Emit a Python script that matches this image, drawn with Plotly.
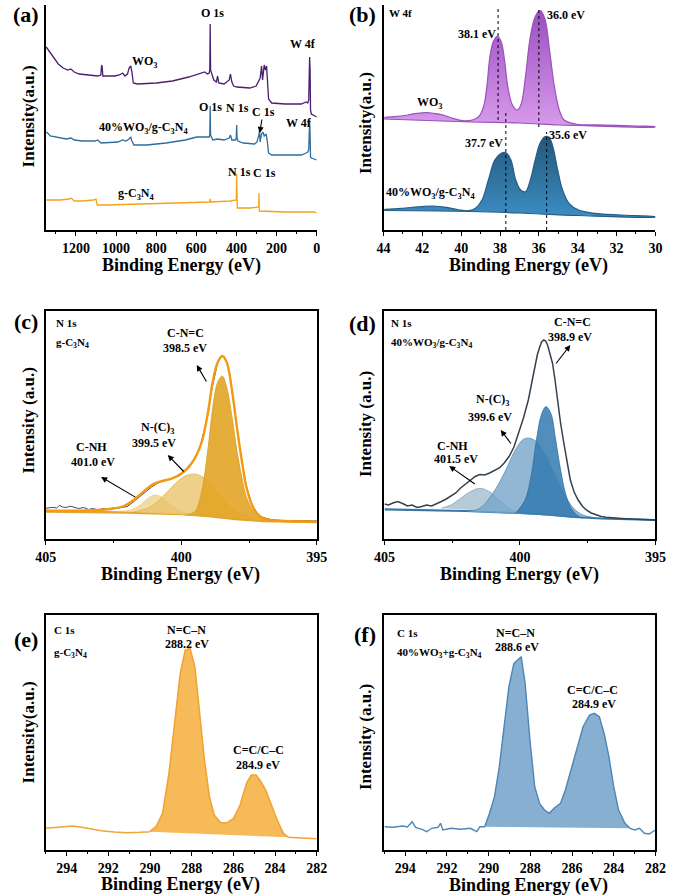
import plotly.graph_objects as go

FONT = "Liberation Serif, Times New Roman, Times, serif"

# ---------------- (a) survey spectra ----------------
a_ev_wo3 = [1348,1341,1328,1312,1288,1264,1240,1226,1208,1184,1136,1091,1076,1072,1069,1066,1007,983,967,956,
            943,935,927,921,914,895,799,719,638,566,558,545,536,533,531,529,526,520,513,500,
            494,488,462,436,430,423,414,398,334,302,290,282,275,270,262,256,250,245,240,225,
            157,77,53,45,40,37,35.5,33,31,27,12,0]
a_int_wo3 = [183,181,177,172,166,162,160,161,158,156,155,154,155,165,163,154,154,155,157,154,
             156,162,164,158,147,146,147,149,153,157,158,156,157,160,206,160,158,156,150,148,
             154,147,146,150,156,148,144,143,142,144,148,152,164,150,165,160,164,147,131,127,
             126,126,128,127,130,160,173,160,120,116,114,113]
a_ev_comp = [1348,1341,1328,1280,1248,1224,1208,1168,1104,1092,1075,991,967,951,935,927,921,911,847,751,
             655,598,558,536,533,531,529,526,518,494,462,436,430,423,404,401,399,397,393,366,
             334,310,298,292,288,285,282,275,268,262,252,246,240,225,157,77,53,45,40,37,
             35.5,33,31,27,12,0]
a_int_comp = [98,97,94,92,91,92,90,89,89,90,87,88,90,89,91,93,89,85,85,87,
              90,93,93,93,95,124,95,93,90,91,90,92,95,90,90,92,105,92,89,87,
              86,86,88,92,95,100,88,96,98,94,96,88,77,75,75,75,77,78,80,95,
              110,95,73,72,71,70]
a_ev_cn = [1348,1280,1232,1224,1208,1168,1112,1100,1094,1040,879,719,558,534,531,528,430,406,401,399,
           396,334,294,289,288,286,157,13,0]
a_int_cn = [30,30,31,32,29,29,30,31,25,25,26,27,28,28,31,28,29,30,30,56,
            22,22,23,23,37,19,18,18,17]

# ---------------- (b) W 4f ----------------
b_ev_wo3 = [43.95,43.42,42.75,42.26,41.76,41.43,40.93,40.43,39.93,39.43,39.1,38.85,38.68,38.52,38.35,38.14,37.94,37.77,37.6,37.36,
            37.1,36.9,36.69,36.44,36.19,35.94,35.7,35.45,35.2,34.95,34.7,34.12,32.62,30.96,30]
b_int_wo3 = [112.7,113.3,115,116.7,117.3,116.7,115,111.7,109.3,110,113.3,123.3,143.3,173.3,188.3,194,188.3,170,143.3,125,
             120,126.7,153.3,193.3,213.3,219.3,211.7,180,143.3,120,110,106,105,104,103.3]
b_base_wo3_ev = [44,39.5,37,35,34,30]
b_base_wo3_int = [111,108,107,105,104.5,103]
b_ev_comp = [43.95,43.09,42.09,41.43,40.76,40.1,39.6,39.27,38.93,38.6,38.27,37.94,37.69,37.44,37.19,36.94,36.69,36.44,36.19,35.94,
             35.7,35.48,35.28,35.03,34.78,34.45,33.95,33.12,31.79,30]
b_int_comp = [20.7,21.7,23.3,24,22.7,20,19.3,21.7,30,50,70,76.7,77.3,70,50,40,38.3,50,70,86.7,
              93.3,92.7,83.3,60,40,26.7,20,16.7,15,13.3]
b_base_comp_ev = [44,39.5,37,34,30]
b_base_comp_int = [19.5,18.5,17,14.5,13]
b_peaks = [38.1, 36.0, 37.7, 35.6]
b_peak_spans = [(110, 223), (103, 223), (0, 117), (0, 98)]

# ---------------- (c) N 1s g-C3N4 ----------------
c_ev_raw = [405,404.85,404.74,404.6,404.5,404.38,404.26,404.1,404.02,403.9,403.79,403.6,403.43,403.25,403.07,402.9,402.71,402.55,402.36,402.2,
            402.0,401.82,401.64,401.45,401.29,401.1,400.93,400.75,400.57,400.4,400.21,400.05,399.86,399.7,399.5,399.3,399.14,399.0,398.9,398.78,
            398.67,398.58,398.49,398.4,398.31,398.2,398.07,397.95,397.83,397.7,397.6,397.4,397.24,397.05,396.88,396.7,396.52,396.35,396.17,396.0,
            395.81,395.6,395.33,395.15,395]
c_int_raw = [30.7,31.5,31.7,31.0,33.5,32.0,31.5,32.8,32.3,31.0,30.5,31.5,29.5,30.5,29.0,30.5,29.5,31.0,30.7,31.5,
             32.5,36.0,40.0,44.0,48.0,52.0,55.0,57.5,58.5,60.0,61.5,63.5,67.5,72.0,80.0,93.0,110.0,127.0,146.0,163.0,
             175.0,180.0,183.0,181.0,176.0,163.0,137.0,112.0,90.0,69.0,53.0,35.0,27.0,22.0,20.5,19.5,19.0,18.7,18.5,18.2,
             18.6,18.0,18.4,17.8,18.2]
c_ev_env = [405,403.9,402.71,402.12,401.76,401.4,401.05,400.69,400.33,399.98,399.62,399.26,399.02,398.85,398.67,398.49,398.33,398.13,397.95,397.77,
            397.6,397.36,397.12,396.76,396.17,395]
c_int_env = [28.3,28.3,29.7,33,39,47.3,54.7,58,60.7,65.7,75.7,95.7,125.7,155.7,175.7,183,177.3,149,112.3,79,
             52.3,32.3,23,19,18,17.3]
c_ev_cnh = [402.36,401.88,401.52,401.23,400.99,400.75,400.45,400.1,399.8,399.38]
c_int_cnh = [27.7,29,34,40.7,44,42.3,35.7,29,25.7,24]
c_ev_nc3 = [401.76,401.17,400.69,400.21,399.86,399.5,399.14,398.79,398.43,398.07,397.71,397.24]
c_int_nc3 = [27,31.7,42.3,55.7,63,65,60.7,50.7,39,29,24,20.7]
c_ev_cnc = [399.86,399.5,399.26,399.02,398.85,398.67,398.49,398.33,398.13,397.95,397.77,397.6,397.36,397.12,396.76]
c_int_cnc = [24,27.3,45.7,89,129,155.7,163,152.3,122.3,89,62.3,42.3,29,21.7,18.3]
c_ev_base = [405,402,400,399,398,397,395]
c_int_base = [27.5,26.5,25,23,20,18,17]

# ---------------- (d) N 1s 40%WO3/g-C3N4 ----------------
d_ev_raw = [405,404.85,404.69,404.51,404.33,404.15,403.98,403.8,403.62,403.45,403.26,403.08,402.9,402.72,402.55,402.37,402.19,402.0,401.83,401.65,
            401.48,401.3,401.12,400.94,400.76,400.58,400.4,400.22,400.05,399.87,399.69,399.57,399.45,399.36,399.27,399.2,399.12,399.05,398.98,398.89,
            398.8,398.71,398.62,398.5,398.38,398.26,398.14,398.0,397.85,397.7,397.55,397.37,397.19,397.0,396.83,396.6,396.36,396.1,395.76,395.4,395]
d_int_raw = [35,34,36,37.5,35.5,33,34,31.5,32.5,34,33,35,37.5,40,42.5,46,51,55,59,62.5,
             64.5,64,66,68.5,71,76,82.5,92,105,121,139,156,172,184,192,197,199,198,194,186,
             176,160,139,116,96,76,59,47,39,33,29,26,24,22.5,21.7,21,20.7,20.3,20,19.5,19]
d_ev_cnh = [402.9,402.55,402.19,401.83,401.48,401.12,400.76,400.4,400.05]
d_int_cnh = [30.7,34,40.7,47.3,50.7,47.3,39,30.7,26.3]
d_ev_nc3 = [401.95,401.48,401.0,400.52,400.17,399.87,399.63,399.39,399.1,398.74,398.38,398.02,397.67,397.31]
d_int_nc3 = [27.3,30.7,45.7,69,89,99.7,100.7,97.3,85.7,65.7,45.7,30.7,24,21.7]
d_ev_cnc = [400.17,399.81,399.57,399.39,399.21,399.04,398.86,398.68,398.5,398.32,398.14,397.9,397.67]
d_int_cnc = [25.7,39,65.7,99,124,132.3,125.7,99,69,45.7,32.3,24,20.7]
d_ev_base = [405,402,400,399,398,397,395]
d_int_base = [29.7,28,26,24.5,22,20.5,19]

# ---------------- (e) C 1s g-C3N4 ----------------
e_ev = [295,294.66,294.2,293.73,293.27,292.8,292.34,291.72,291.1,290.48,290.02,289.71,289.4,289.09,288.78,288.55,288.31,288.08,287.85,287.62,
        287.39,287.15,286.92,286.61,286.3,285.99,285.68,285.37,285.14,284.91,284.68,284.45,284.21,283.9,283.6,283.36,282.74,282]
e_int = [21.7,22.3,23.3,24,22.7,20.7,19.3,18,17.3,17.7,18.3,23.3,36.7,76.7,133.3,176.7,200,201.7,183.3,140,
         90,53.3,35,27.3,27.3,31.7,45,66.7,75,75,68.3,60,46.7,30,16.7,12.7,12,11.3]
e_fill_range = [283.36, 290.02]

# ---------------- (f) C 1s 40%WO3+g-C3N4 ----------------
f_ev = [295,294.6,294.13,293.9,293.67,293.51,293.2,292.97,292.74,292.43,292.31,292.2,291.81,291.35,290.88,290.57,290.42,290.19,289.96,289.72,
        289.49,289.26,289.03,288.79,288.56,288.44,288.25,288.02,287.79,287.56,287.32,287.09,286.86,286.55,286.32,286.09,285.78,285.47,285.16,284.93,
        284.69,284.46,284.23,284.0,283.77,283.46,283.22,282.99,282.76,282.53,282.3,282]
f_int = [23.3,22.7,24,23,28.3,22.7,20.7,18.3,21.7,22.7,26.7,20,21.7,20.7,21.7,18.3,23.3,23.3,36.7,53.3,
         83.3,123.3,163.3,186.7,191.7,193.3,166.7,110,63.3,46.7,40,36.7,41.7,46.7,60,76.7,100,123.3,135,136.7,
         133.3,116.7,93.3,63.3,40,26.7,21.7,20,21.7,16.7,16,20]
f_fill_range = [283.22, 290.19]

fig = go.Figure()


def ax_ids(k):
    return ("x" if k == 1 else f"x{k}"), ("y" if k == 1 else f"y{k}")


def add_line(x, y, k, color, width, shape="linear", dash="solid"):
    xa, ya = ax_ids(k)
    fig.add_trace(go.Scatter(x=x, y=y, mode="lines", xaxis=xa, yaxis=ya,
                             line=dict(color=color, width=width, shape=shape, dash=dash),
                             showlegend=False, hoverinfo="skip"))


def add_poly(x, y, k, fillcolor, linecolor, width, shape="linear", gradient=None):
    xa, ya = ax_ids(k)
    kw = {}
    if gradient is not None:
        kw["fillgradient"] = dict(type="vertical", colorscale=gradient)
    fig.add_trace(go.Scatter(x=x, y=y, mode="lines", xaxis=xa, yaxis=ya, fill="toself",
                             fillcolor=fillcolor,
                             line=dict(color=linecolor, width=width, shape=shape),
                             showlegend=False, hoverinfo="skip", **kw))


# (a)
add_line(a_ev_cn, a_int_cn, 1, "#F5A31A", 1.3)
add_line(a_ev_comp, a_int_comp, 1, "#2F6D9B", 1.3)
add_line(a_ev_wo3, a_int_wo3, 1, "#4B1F6F", 1.3)

# (b)
add_poly(list(b_ev_wo3) + b_base_wo3_ev[::-1], list(b_int_wo3) + b_base_wo3_int[::-1], 2,
         "#C27ADB", "#9A52BC", 1.2, shape="spline",
         gradient=[[0, "#D89BEB"], [1, "#9C4FC1"]])
add_poly(list(b_ev_comp) + b_base_comp_ev[::-1], list(b_int_comp) + b_base_comp_int[::-1], 2,
         "#2F75A8", "#275E86", 1.2, shape="spline",
         gradient=[[0, "#3C8DC4"], [1, "#245778"]])
for p, (y0, y1) in zip(b_peaks, b_peak_spans):
    add_line([p, p], [y0, y1], 2, "black", 1.0, dash="dot")

# (c)
add_line(c_ev_base, c_int_base, 3, "#E3A52C", 2.5)
add_poly(c_ev_cnh, c_int_cnh, 3, "rgba(240,214,150,0.85)", "rgba(235,200,120,0.9)", 0.8, shape="spline")
add_poly(c_ev_nc3, c_int_nc3, 3, "rgba(234,192,100,0.75)", "rgba(225,175,70,0.9)", 0.8, shape="spline")
add_poly(c_ev_cnc, c_int_cnc, 3, "rgba(227,166,40,0.92)", "#D99A1E", 0.8, shape="spline")
add_line(c_ev_raw, c_int_raw, 3, "#4A4A4A", 1.0)
add_line(c_ev_env, c_int_env, 3, "#F39A12", 2.4, shape="spline")

# (d)
add_line(d_ev_base, d_int_base, 4, "#3676A6", 2.2)
add_poly(d_ev_cnh, d_int_cnh, 4, "rgba(168,194,208,0.85)", "rgba(120,160,185,0.9)", 0.8, shape="spline")
add_poly(d_ev_nc3, d_int_nc3, 4, "rgba(118,165,202,0.8)", "rgba(80,135,180,0.9)", 0.8, shape="spline")
add_poly(d_ev_cnc, d_int_cnc, 4, "rgba(52,122,176,0.85)", "#2E6E9F", 0.8, shape="spline")
add_line(d_ev_raw, d_int_raw, 4, "#34424F", 1.5)

# (e)
e_sel = [(x, y) for x, y in zip(e_ev, e_int) if e_fill_range[0] <= x <= e_fill_range[1]]
add_poly([p[0] for p in e_sel], [p[1] for p in e_sel], 5, "rgba(246,178,70,0.9)", "rgba(0,0,0,0)", 0)
add_line(e_ev, e_int, 5, "#F2A336", 1.6)

# (f)
f_sel = [(x, y) for x, y in zip(f_ev, f_int) if f_fill_range[0] <= x <= f_fill_range[1]]
add_poly([p[0] for p in f_sel], [p[1] for p in f_sel], 6, "rgba(128,171,207,0.95)", "rgba(0,0,0,0)", 0)
add_line(f_ev, f_int, 6, "#4C86B4", 1.4)

# ---------------- axes ----------------
W, H = 678, 896
boxes = {
    1: (36, 316, 5, 230),
    2: (385, 666, 5, 230),
    3: (36, 316, 311, 539),
    4: (386, 666, 311, 539),
    5: (36, 316, 615, 850),
    6: (386, 666, 615, 850),
}
xranges = {1: [1350, 0], 2: [44, 30], 3: [405, 395], 4: [405, 395], 5: [295, 282], 6: [295, 282]}
yranges = {1: [0, 225], 2: [0, 225], 3: [0, 228], 4: [0, 228], 5: [0, 235], 6: [0, 235]}
dticks = {1: (200, 100), 2: (2, 1), 3: (5, 2.5), 4: (5, 2.5), 5: (2, 1), 6: (2, 1)}
tickfont = dict(family=FONT, size=14, color="black", weight="bold")

layout_axes = {}
for k, (x0, x1, yt, yb) in boxes.items():
    mirror = k >= 3
    xa, ya = ax_ids(k)
    xkey = "xaxis" if k == 1 else f"xaxis{k}"
    ykey = "yaxis" if k == 1 else f"yaxis{k}"
    major, minor = dticks[k]
    layout_axes[xkey] = dict(
        domain=[x0 / W, x1 / W], range=xranges[k], anchor=ya,
        showline=True, linecolor="black", linewidth=1.6, mirror=mirror,
        ticks="outside", ticklen=4, tickwidth=1.3, tickcolor="black",
        tick0=0, dtick=major, tickfont=tickfont, showgrid=False, zeroline=False,
        ticklabelstandoff=0,
        minor=dict(dtick=minor, tick0=0, ticks="outside", ticklen=2.5, tickwidth=1.1, tickcolor="black", showgrid=False),
        fixedrange=True,
    )
    layout_axes[ykey] = dict(
        domain=[1 - yb / H, 1 - yt / H], range=yranges[k], anchor=xa,
        showline=True, linecolor="black", linewidth=1.6, mirror=mirror,
        ticks="", showticklabels=False, showgrid=False, zeroline=False, fixedrange=True,
    )

fig.update_layout(width=W, height=H, margin=dict(l=0, r=0, t=0, b=0),
                  paper_bgcolor="white", plot_bgcolor="white", showlegend=False,
                  font=dict(family=FONT, color="black"), **layout_axes)

# ---------------- text ----------------
ann = []


def paper_text(px, py, text, size, angle=0):
    ann.append(dict(xref="paper", yref="paper", x=px / W, y=1 - py / H, text=text, showarrow=False,
                    textangle=angle, xanchor="center", yanchor="middle",
                    font=dict(family=FONT, size=size, color="black")))


def data_text(k, x, y, text, size=12, xanchor="center"):
    xa, ya = ax_ids(k)
    ann.append(dict(xref=xa, yref=ya, x=x, y=y, text=text, showarrow=False, xanchor=xanchor,
                    yanchor="middle", font=dict(family=FONT, size=size, color="black")))


def data_arrow(k, x_head, y_head, x_tail, y_tail):
    xa, ya = ax_ids(k)
    ann.append(dict(xref=xa, yref=ya, x=x_head, y=y_head, axref=xa, ayref=ya, ax=x_tail, ay=y_tail,
                    text="", showarrow=True, arrowhead=2, arrowsize=1.1, arrowwidth=1.1, arrowcolor="black",
                    standoff=0, startstandoff=0, font=dict(family=FONT, size=10)))


xtitle = "<b>Binding Energy (eV)</b>"
paper_text(176, 265, xtitle, 18)
paper_text(535, 265, xtitle, 18)
paper_text(175, 574, xtitle, 18)
paper_text(526, 574, xtitle, 18)
paper_text(175, 884, xtitle, 18)
paper_text(535, 885, xtitle, 18)
paper_text(19, 116, "<b>Intensity(a.u.)</b>", 17, -90)
paper_text(367, 123, "<b>Intensity(a.u.)</b>", 17, -90)
paper_text(18, 420, "<b>Intensity (a.u.)</b>", 17, -90)
paper_text(366, 424, "<b>Intensity (a.u.)</b>", 17, -90)
paper_text(18, 732, "<b>Intensity(a.u.)</b>", 17, -90)
paper_text(366, 737, "<b>Intensity (a.u.)</b>", 17, -90)

paper_text(16, 15, "<b>(a)</b>", 22)
paper_text(363, 15, "<b>(b)</b>", 22)
paper_text(16, 321, "<b>(c)</b>", 22)
paper_text(363, 323, "<b>(d)</b>", 22)
paper_text(16, 639, "<b>(e)</b>", 22)
paper_text(366, 634, "<b>(f)</b>", 22)

# (a) labels
data_text(1, 520, 217, "<b>O 1s</b>")
data_text(1, 67, 186, "<b>W 4f</b>")
data_text(1, 855, 168, "<b>WO<sub>3</sub></b>")
data_text(1, 530, 123, "<b>O 1s</b>")
data_text(1, 396, 122, "<b>N 1s</b>")
data_text(1, 265, 118, "<b>C 1s</b>")
data_text(1, 87, 107, "<b>W 4f</b>")
data_text(1, 861, 102, "<b>40%WO<sub>3</sub>/g-C<sub>3</sub>N<sub>4</sub></b>")
data_text(1, 386, 58, "<b>N 1s</b>")
data_text(1, 260, 57, "<b>C 1s</b>")
data_text(1, 897, 36, "<b>g-C<sub>3</sub>N<sub>4</sub></b>")
data_arrow(1, 284, 97, 272, 112)

# (b) labels
data_text(2, 43.8, 217, "<b>W 4f</b>", 11, "left")
data_text(2, 39.2, 196, "<b>38.1 eV</b>")
data_text(2, 34.6, 215, "<b>36.0 eV</b>")
data_text(2, 38.8, 87, "<b>37.7 eV</b>")
data_text(2, 34.5, 95, "<b>35.6 eV</b>")
data_text(2, 41.6, 127, "<b>WO<sub>3</sub></b>")
data_text(2, 41.6, 37, "<b>40%WO<sub>3</sub>/g-C<sub>3</sub>N<sub>4</sub></b>")

# (c) labels
data_text(3, 404.7, 216, "<b>N 1s</b>", 11, "left")
data_text(3, 404.7, 196, "<b>g-C<sub>3</sub>N<sub>4</sub></b>", 11, "left")
data_text(3, 399.86, 206, "<b>C-N=C</b>")
data_text(3, 399.86, 191, "<b>398.5 eV</b>")
data_arrow(3, 399.43, 174, 399.04, 156)
data_text(3, 400.86, 111, "<b>N-(C)<sub>3</sub></b>")
data_text(3, 401.0, 96, "<b>399.5 eV</b>")
data_arrow(3, 400.5, 84, 399.86, 66)
data_text(3, 403.32, 92, "<b>C-NH</b>")
data_text(3, 403.25, 77, "<b>401.0 eV</b>")
data_arrow(3, 402.96, 62, 401.64, 41)

# (d) labels
data_text(4, 404.82, 216, "<b>N 1s</b>", 11, "left")
data_text(4, 404.82, 196, "<b>40%WO<sub>3</sub>/g-C<sub>3</sub>N<sub>4</sub></b>", 11, "left")
data_text(4, 398.07, 217, "<b>C-N=C</b>")
data_text(4, 398.14, 202, "<b>398.9 eV</b>")
data_arrow(4, 398.14, 194, 398.71, 174)
data_text(4, 401.0, 139, "<b>N-(C)<sub>3</sub></b>")
data_text(4, 401.1, 122, "<b>399.6 eV</b>")
data_arrow(4, 400.71, 109, 400.29, 94)
data_text(4, 402.5, 93, "<b>C-NH</b>")
data_text(4, 402.36, 80, "<b>401.5 eV</b>")
data_arrow(4, 402.61, 73, 401.61, 54)

# (e) labels
data_text(5, 294.7, 220, "<b>C 1s</b>", 11, "left")
data_text(5, 294.7, 197, "<b>g-C<sub>3</sub>N<sub>4</sub></b>", 11, "left")
data_text(5, 288.24, 220, "<b>N=C\u2013N</b>")
data_text(5, 288.24, 206, "<b>288.2 eV</b>")
data_text(5, 284.8, 100, "<b>C=C/C\u2013C</b>")
data_text(5, 284.8, 85, "<b>284.9 eV</b>")

# (f) labels
data_text(6, 294.5, 217, "<b>C 1s</b>", 11, "left")
data_text(6, 294.5, 197, "<b>40%WO<sub>3</sub>+g-C<sub>3</sub>N<sub>4</sub></b>", 11, "left")
data_text(6, 288.72, 217, "<b>N=C\u2013N</b>")
data_text(6, 288.65, 203, "<b>288.6 eV</b>")
data_text(6, 285.0, 160, "<b>C=C/C\u2013C</b>")
data_text(6, 284.95, 146, "<b>284.9 eV</b>")

fig.update_layout(annotations=ann)
fig.write_html("out.html")
